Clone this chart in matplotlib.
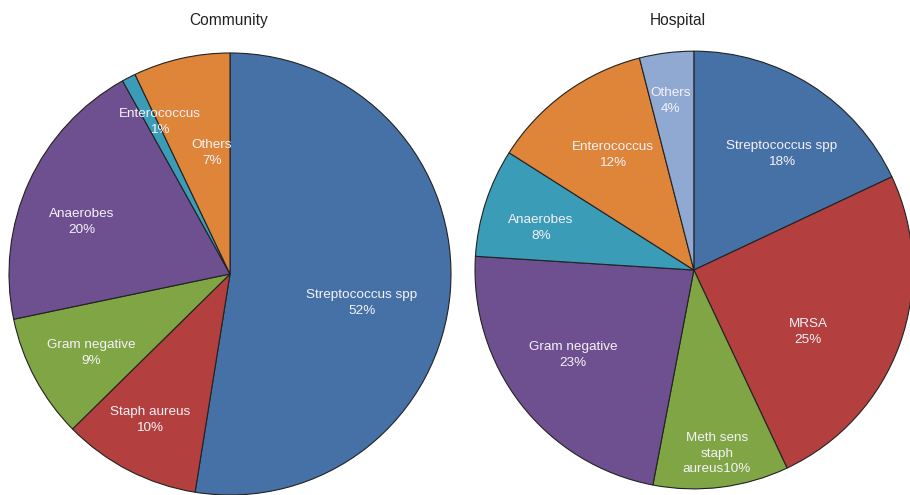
import numpy as np
import matplotlib
matplotlib.use("Agg")
from matplotlib import pyplot as plt

plt.rcParams['font.family'] = ['Liberation Sans', 'DejaVu Sans']

# community-acquired infections
comm_labels = ["Streptococcus spp", "Staph aureus", "Gram negative", "Anaerobes", "Enterococcus", "Others"]
comm_values = [52, 10, 9, 20, 1, 7]
comm_colors = ["#4671a6", "#b3403e", "#80a544", "#6e5090", "#3b9cb8", "#de8539"]

# hospital-acquired infections
hosp_labels = ["Streptococcus spp", "MRSA", "Meth sens\nstaph\naureus", "Gram negative", "Anaerobes", "Enterococcus", "Others"]
hosp_values = [18, 25, 10, 23, 8, 12, 4]
hosp_colors = ["#4671a6", "#b3403e", "#80a544", "#6e5090", "#3b9cb8", "#de8539", "#90a9d3"]

# where each label sits inside its wedge (pie radius = 1)
comm_text_xy = [(0.597, -0.131), (-0.362, -0.661), (-0.629, -0.357), (-0.670, 0.235),
                (-0.317, 0.688), (-0.081, 0.548)]
hosp_text_xy = [(0.402, 0.530), (0.521, -0.283), (0.105, -0.840), (-0.553, -0.388),
                (-0.699, 0.192), (-0.370, 0.525), (-0.105, 0.772)]


def draw_pie(ax, labels, values, colors, text_xy):
    ax.pie(values, colors=colors, startangle=90, counterclock=False,
           wedgeprops=dict(edgecolor="#222222", linewidth=0.8))
    for lab, v, (x, y) in zip(labels, values, text_xy):
        if "\n" in lab:
            txt = lab + str(v) + "%"
        else:
            txt = lab + "\n" + str(v) + "%"
        ax.text(x, y, txt, ha="center", va="center",
                color="#f6f2fa", fontsize=9.7, linespacing=1.38)
    ax.set_xlim(-1, 1)
    ax.set_ylim(-1, 1)
    ax.set_aspect("equal")


fig = plt.figure(figsize=(9.1, 4.95), dpi=100)
ax1 = fig.add_axes([0.0099, 0.0, 0.4857, 0.893])
ax2 = fig.add_axes([0.522, 0.012, 0.481, 0.885])

draw_pie(ax1, comm_labels, comm_values, comm_colors, comm_text_xy)
draw_pie(ax2, hosp_labels, hosp_values, hosp_colors, hosp_text_xy)

fig.text(229 / 910, 1 - 20 / 495, "Community", ha="center", va="center", fontsize=11.2, color="#222222")
fig.text(678 / 910, 1 - 20 / 495, "Hospital", ha="center", va="center", fontsize=11.2, color="#222222")

fig.savefig("out.png", dpi=100)
